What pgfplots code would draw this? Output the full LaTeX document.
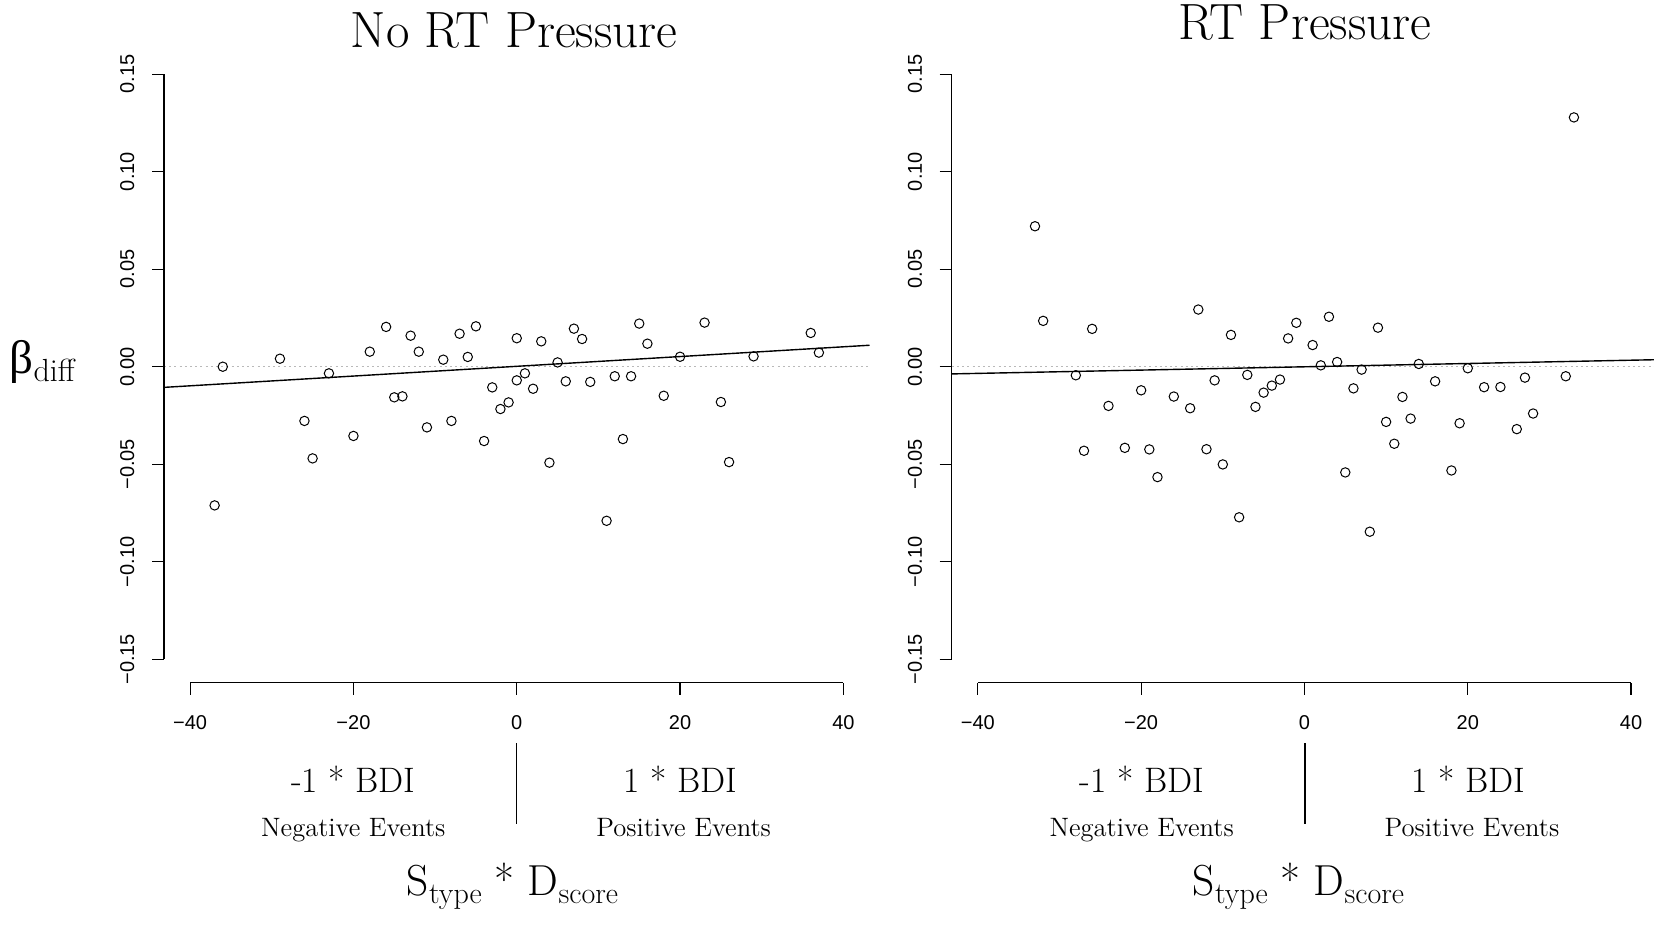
\documentclass[border=0pt]{standalone}
\usepackage{pgfplots}
\pgfplotsset{compat=1.18}
\usepackage{fontspec}
\newfontfamily\lsans{Liberation Sans}
\newfontfamily\grk{Liberation Serif}
\pgfplotsset{
  rpanel/.style={
    scale only axis, width=352.75pt, height=316pt,
    xmin=-43.2, xmax=43.2, ymin=-0.162, ymax=0.162,
    axis x line*=bottom, axis y line*=left,
    axis line style={draw=none},
    tick align=outside, major tick length=6pt,
    tick style={black, line width=0.6pt},
    xtick={-40,-20,0,20,40},
    xticklabels={−40,−20,0,20,40},
    ytick={-0.15,-0.10,-0.05,0,0.05,0.10,0.15},
    yticklabels={−0.15,−0.10,−0.05,0.00,0.05,0.10,0.15},
    xticklabel style={font=\lsans\fontsize{10}{12}\selectfont, anchor=base, inner sep=0pt, yshift=-17.35pt},
    yticklabel style={font=\lsans\fontsize{10}{12}\selectfont, inner sep=0pt, xshift=-8.9pt, rotate=90, anchor=base},
    clip=false,
  },
  ptmark/.style={only marks, mark=o, mark size=2.35pt, mark options={black, line width=0.5pt}},
}
\newcommand\zeroline{\addplot[gray!55, line width=0.5pt, dash pattern=on 1pt off 1.6pt, forget plot] coordinates {(-43.2,0) (43.2,0)};}
\newcommand\axlines{%
  \draw[line width=0.6pt] (axis cs:-43.2,-0.15) -- (axis cs:-43.2,0.15);
  \draw[line width=0.6pt] (axis cs:-40,-0.162) -- (axis cs:40,-0.162);}
\newcommand\sub[1]{\raisebox{-3.9pt}{\fontsize{15}{17}\selectfont #1}}
\begin{document}
\begin{tikzpicture}
\useasboundingbox (0,0) rectangle (827pt,-462.5pt);
% ---------------- left panel ----------------
\begin{axis}[rpanel, at={(82pt,-341.35pt)}, anchor=south west]
\zeroline
\addplot[black, line width=0.7pt] coordinates {(-43.2,-0.0106) (43.2,0.0110)};
\addplot[ptmark] table {
x y
-37 -0.0711
-36 0.0000
-29 0.0041
-26 -0.0278
-25 -0.0470
-23 -0.0034
-20 -0.0355
-18 0.0077
-16 0.0204
-15 -0.0157
-14 -0.0152
-13 0.0159
-12 0.0077
-11 -0.0311
-9 0.0036
-8 -0.0278
-7 0.0169
-6 0.0050
-5 0.0207
-4 -0.0381
-3 -0.0106
-2 -0.0217
-1 -0.0183
0 0.0146
0 -0.0070
1 -0.0034
2 -0.0113
3 0.0130
4 -0.0492
5 0.0022
6 -0.0075
7 0.0195
8 0.0142
9 -0.0078
11 -0.0790
12 -0.0049
13 -0.0371
14 -0.0049
15 0.0221
16 0.0118
18 -0.0149
20 0.0051
23 0.0226
25 -0.0181
26 -0.0489
29 0.0053
36 0.0173
37 0.0072
};
\axlines
\end{axis}
% ---------------- right panel ----------------
\begin{axis}[rpanel, at={(475.85pt,-341.35pt)}, anchor=south west]
\zeroline
\addplot[black, line width=0.7pt] coordinates {(-43.2,-0.0037) (43.2,0.0036)};
\addplot[ptmark] table {
x y
-33 0.0720
-32 0.0235
-28 -0.0044
-27 -0.0431
-26 0.0194
-24 -0.0201
-22 -0.0416
-20 -0.0121
-19 -0.0424
-18 -0.0566
-16 -0.0153
-14 -0.0213
-13 0.0293
-12 -0.0423
-11 -0.0070
-10 -0.0501
-9 0.0163
-8 -0.0772
-7 -0.0042
-6 -0.0206
-5 -0.0133
-4 -0.0097
-3 -0.0066
-2 0.0145
-1 0.0225
1 0.0111
2 0.0007
3 0.0256
4 0.0024
5 -0.0542
6 -0.0111
7 -0.0015
8 -0.0846
9 0.0200
10 -0.0283
11 -0.0395
12 -0.0155
13 -0.0266
14 0.0014
16 -0.0075
18 -0.0532
19 -0.0290
20 -0.0008
22 -0.0105
24 -0.0104
26 -0.0320
27 -0.0056
28 -0.0240
32 -0.0049
33 0.1278
};
\axlines
\end{axis}
% ---------------- texts ----------------
\node[anchor=base, inner sep=0pt, font=\fontsize{25.5}{30}\selectfont] at (257pt,-23.75pt) {No RT Pressure};
\node[anchor=base, inner sep=0pt, font=\fontsize{25.5}{30}\selectfont] at (652.5pt,-20pt) {RT Pressure};
\node[anchor=base west, inner sep=0pt] at (4.65pt,-186.5pt) {{\grk\fontsize{23.5}{27}\selectfont β}\raisebox{-4.3pt}{\fontsize{16}{19}\selectfont diff}};
% left annotations
\node[anchor=base, inner sep=0pt, font=\fontsize{17.7}{21}\selectfont] at (176.65pt,-396.15pt) {-1 * BDI};
\node[anchor=base, inner sep=0pt, font=\fontsize{17.7}{21}\selectfont] at (340pt,-396.15pt) {1 * BDI};
\node[anchor=base, inner sep=0pt, font=\fontsize{13.3}{16}\selectfont] at (176.65pt,-418pt) {Negative Events};
\node[anchor=base, inner sep=0pt, font=\fontsize{13.3}{16}\selectfont] at (341.8pt,-418pt) {Positive Events};
\draw[line width=0.6pt] (258.35pt,-371.5pt) -- (258.35pt,-412pt);
\node[anchor=base, inner sep=0pt, font=\fontsize{21.7}{26}\selectfont] at (256.25pt,-447.85pt) {S\sub{type} * D\sub{score}};
% right annotations
\node[anchor=base, inner sep=0pt, font=\fontsize{17.7}{21}\selectfont] at (570.85pt,-396.15pt) {-1 * BDI};
\node[anchor=base, inner sep=0pt, font=\fontsize{17.7}{21}\selectfont] at (734.15pt,-396.15pt) {1 * BDI};
\node[anchor=base, inner sep=0pt, font=\fontsize{13.3}{16}\selectfont] at (570.85pt,-418pt) {Negative Events};
\node[anchor=base, inner sep=0pt, font=\fontsize{13.3}{16}\selectfont] at (735.95pt,-418pt) {Positive Events};
\draw[line width=0.6pt] (652.5pt,-371.5pt) -- (652.5pt,-412pt);
\node[anchor=base, inner sep=0pt, font=\fontsize{21.7}{26}\selectfont] at (649.25pt,-447.85pt) {S\sub{type} * D\sub{score}};
\end{tikzpicture}
\end{document}
